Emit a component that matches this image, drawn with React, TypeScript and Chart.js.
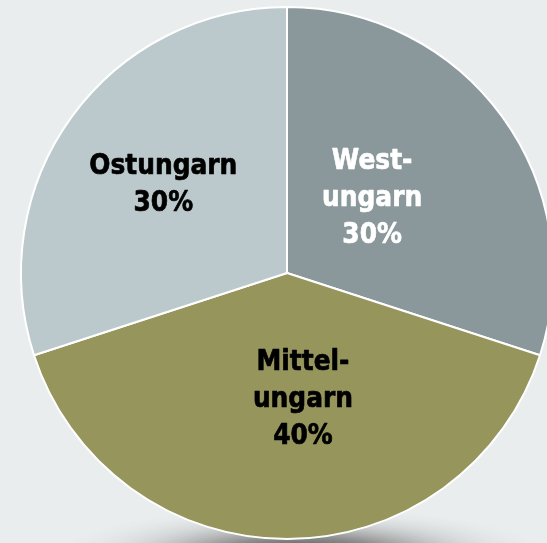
import React, { useEffect, useRef } from "react";
import { Chart, registerables } from "chart.js";

Chart.register(...registerables);

const categories = ["West-\nungarn", "Mittel-\nungarn", "Ostungarn"];
const shares = [30, 40, 30];
const percentLabels = ["30%", "40%", "30%"];
const sliceColors = ["#8a979b", "#95955c", "#bbc9cd"];
const labelColors = ["#ffffff", "#000000", "#000000"];
// label placement relative to pie centre, in units of radius
const labelOffsets = [
  [0.32, -0.28],
  [0.06, 0.475],
  [-0.465, -0.33],
];

const FONT = "bold 28px 'DejaVu Sans', Verdana, sans-serif";
const X_SCALE = 0.89;
const LINE_H = 37;

const shadowPlugin = {
  id: "bottomShadow",
  beforeDatasetsDraw(chart: any) {
    const meta = chart.getDatasetMeta(0);
    const arc = meta.data[0];
    if (!arc) return;
    const { x, y, outerRadius } = arc.getProps(["x", "y", "outerRadius"], true);
    const ctx = chart.ctx;
    ctx.save();
    const cx = x + 15;
    const cy = y + outerRadius + 14;
    const rx = outerRadius * 0.9;
    const ry = 45;
    ctx.translate(cx, cy);
    ctx.scale(1, ry / rx);
    const g = ctx.createRadialGradient(0, 0, 0, 0, 0, rx);
    g.addColorStop(0, "rgba(70,70,70,1)");
    g.addColorStop(0.35, "rgba(110,110,110,0.75)");
    g.addColorStop(0.7, "rgba(170,170,170,0.3)");
    g.addColorStop(1, "rgba(220,220,220,0)");
    ctx.fillStyle = g;
    ctx.beginPath();
    ctx.arc(0, 0, rx, 0, Math.PI * 2);
    ctx.fill();
    ctx.restore();
  },
};

const labelPlugin = {
  id: "sliceLabels",
  afterDatasetsDraw(chart: any) {
    const meta = chart.getDatasetMeta(0);
    const ctx = chart.ctx;
    meta.data.forEach((arc: any, i: number) => {
      const { x, y, outerRadius } = arc.getProps(["x", "y", "outerRadius"], true);
      const lx = x + labelOffsets[i][0] * outerRadius;
      const ly = y + labelOffsets[i][1] * outerRadius;
      const lines = [...categories[i].split("\n"), percentLabels[i]];
      const start = ly - ((lines.length - 1) * LINE_H) / 2;
      ctx.save();
      ctx.translate(lx, 0);
      ctx.scale(X_SCALE, 1);
      ctx.font = FONT;
      ctx.textAlign = "center";
      ctx.textBaseline = "middle";
      ctx.fillStyle = labelColors[i];
      ctx.strokeStyle = labelColors[i];
      ctx.lineWidth = 0.7;
      ctx.lineJoin = "round";
      lines.forEach((t, k) => {
        ctx.fillText(t, 0, start + k * LINE_H);
        ctx.strokeText(t, 0, start + k * LINE_H);
      });
      ctx.restore();
    });
  },
};

export default function App() {
  const ref = useRef<HTMLCanvasElement>(null);
  useEffect(() => {
    document.body.style.margin = "0";
    const chart = new Chart(ref.current!, {
      type: "pie",
      data: {
        labels: categories,
        datasets: [
          {
            data: shares,
            backgroundColor: sliceColors,
            borderColor: "#ffffff",
            borderWidth: 2,
          },
        ],
      },
      options: {
        responsive: false,
        animation: false,
        radius: 266,
        layout: { padding: 7 },
        plugins: {
          legend: { display: false },
          tooltip: { enabled: false },
        },
      },
      plugins: [shadowPlugin, labelPlugin],
    });
    return () => chart.destroy();
  }, []);
  return (
    <div
      style={{
        position: "fixed",
        left: 0,
        top: 0,
        width: 547,
        height: 543,
        overflow: "hidden",
        background: "#e9edee",
      }}
    >
      <canvas ref={ref} width={574} height={546} style={{ display: "block" }} />
    </div>
  );
}
